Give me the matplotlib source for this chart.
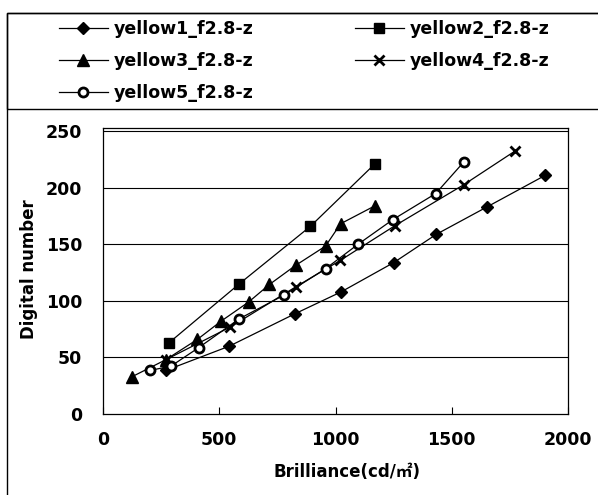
import matplotlib
matplotlib.use("Agg")
import matplotlib.pyplot as plt
from matplotlib.patches import Rectangle

plt.rcParams['font.family'] = ['DejaVu Sans', 'Noto Sans CJK JP']

# valores (brilho em cd/m2, numero digital)
y1_x = [270, 543, 826, 1024, 1251, 1434, 1650, 1901]
y1_y = [38.5, 60, 88.7, 108, 134, 159, 183, 211]

y2_x = [284, 583, 892, 1168]
y2_y = [63, 114.6, 166, 221]

y3_x = [125, 270, 406, 507, 626, 716, 828, 957, 1022, 1168]
y3_y = [33, 48, 66, 82, 99, 114.6, 131.4, 148.5, 168.3, 184]

y4_x = [270, 548, 830, 1020, 1255, 1553, 1772]
y4_y = [48, 77, 112.6, 135.8, 166.5, 203, 232.6]

y5_x = [201, 292, 411, 586, 777, 957, 1096, 1247, 1431, 1552]
y5_y = [38.5, 42.3, 58.6, 84.2, 105, 128.5, 150, 172, 195, 223]

nomes = ["yellow1_f2.8-z", "yellow2_f2.8-z", "yellow3_f2.8-z",
         "yellow4_f2.8-z", "yellow5_f2.8-z"]
x_ticks = [0, 500, 1000, 1500, 2000]
y_ticks = [0, 50, 100, 150, 200, 250]

W, H = 598, 495
fig = plt.figure(figsize=(W / 100, H / 100), dpi=100)


def fx(px):
    return px / W


def fy(py):
    return 1 - py / H


ax = fig.add_axes([fx(103), fy(414), (568 - 103) / W, (414 - 128) / H])

estilo = dict(color='black', linewidth=0.9)
l1, = ax.plot(y1_x, y1_y, marker='D', markersize=6.5, **estilo)
l2, = ax.plot(y2_x, y2_y, marker='s', markersize=7, **estilo)
l3, = ax.plot(y3_x, y3_y, marker='^', markersize=8, **estilo)
l4, = ax.plot(y4_x, y4_y, marker='x', markersize=7, markeredgewidth=2, **estilo)
l5, = ax.plot(y5_x, y5_y, marker='o', markersize=6.5, markerfacecolor='white',
              markeredgewidth=2, **estilo)

ax.set_xlim(0, 2000)
ax.set_ylim(0, 253)
ax.set_xticks(x_ticks)
ax.set_yticks(y_ticks)
for v in y_ticks[1:]:
    ax.axhline(v, color='black', linewidth=0.8, zorder=0)
ax.tick_params(axis='x', direction='in', length=5, width=0.8, pad=12)
ax.tick_params(axis='y', direction='in', length=0, pad=15)
for lab in ax.get_xticklabels() + ax.get_yticklabels():
    lab.set_fontsize(12.5)
    lab.set_fontweight('bold')
for s in ax.spines.values():
    s.set_linewidth(0.9)

ax.set_xlabel("Brilliance(cd/㎡)", fontsize=12, fontweight='bold', va='center')
ax.xaxis.set_label_coords((347 - 103) / 465, (414 - 472) / 286)
ax.set_ylabel("Digital number", fontsize=12, fontweight='bold', va='center')
ax.yaxis.set_label_coords((29 - 103) / 465, (414 - 269) / 286)

# molduras (area do grafico e caixa da legenda)
fig.patches.append(Rectangle((fx(7), fy(497)), fx(600 - 7), fy(12.7) - fy(497),
                             transform=fig.transFigure, fill=False,
                             edgecolor='black', linewidth=1.0))
fig.patches.append(Rectangle((fx(7), fy(109)), fx(600 - 7), fy(12.7) - fy(109),
                             transform=fig.transFigure, fill=False,
                             edgecolor='black', linewidth=1.0))

leg_kw = dict(loc='upper left', frameon=False, borderpad=0, borderaxespad=0,
              handlelength=2.8, handletextpad=0.35, labelspacing=0.8,
              prop={'size': 12.5, 'weight': 'bold'})
fig.legend([l1, l3, l5], [nomes[0], nomes[2], nomes[4]],
           bbox_to_anchor=(fx(59), fy(20)), **leg_kw)
fig.legend([l2, l4], [nomes[1], nomes[3]],
           bbox_to_anchor=(fx(355), fy(20)), **leg_kw)

fig.savefig("out.png", dpi=100)
